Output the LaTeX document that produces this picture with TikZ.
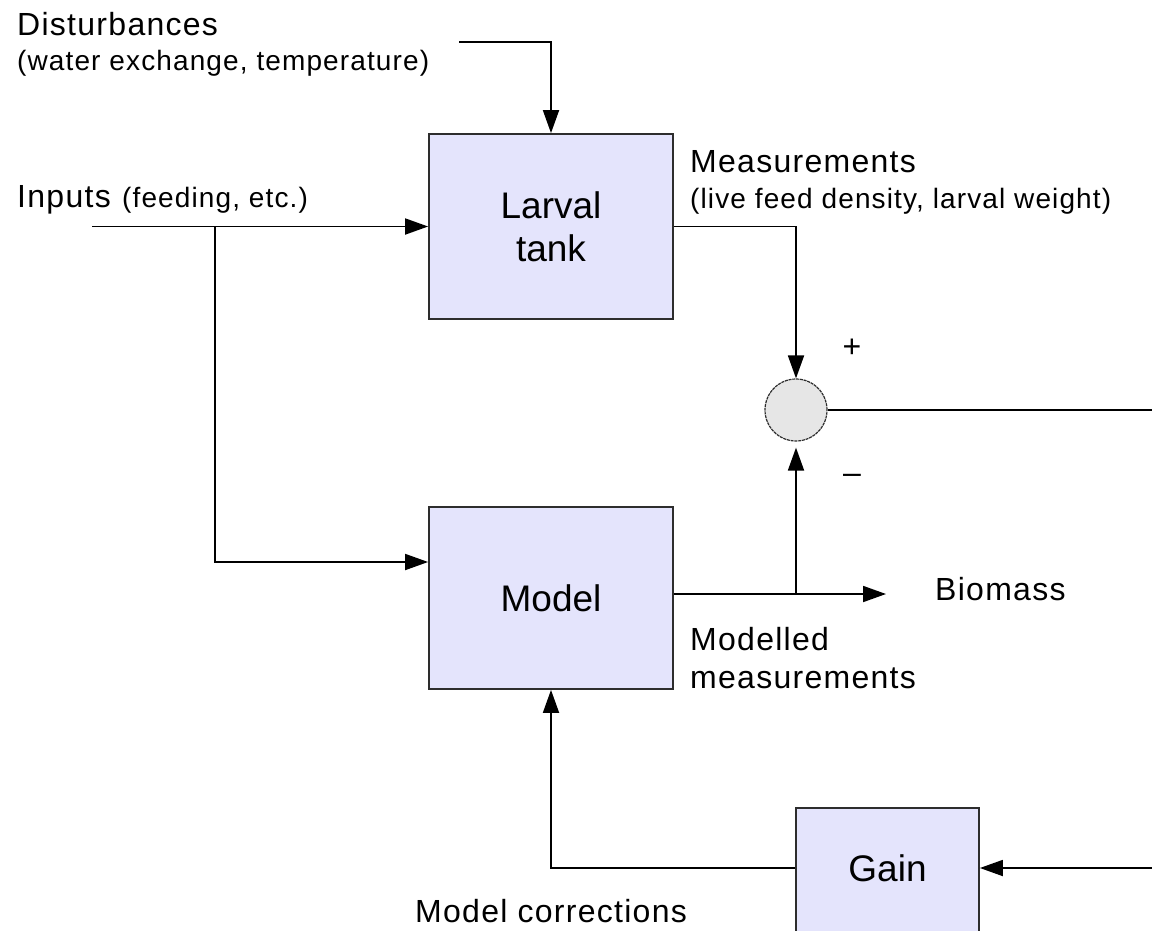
\documentclass[tikz,border=0pt]{standalone}
\usepackage{fontspec}
\setmainfont{Liberation Sans}
\newfontfamily\spacedsans[LetterSpace=4]{Liberation Sans}
\usetikzlibrary{arrows.meta,calc}
\definecolor{boxfill}{RGB}{228,228,252}
\definecolor{sumfill}{RGB}{230,230,230}
\definecolor{edge}{RGB}{45,45,45}
\begin{document}
\begin{tikzpicture}[x=1pt,y=-1pt,
  blk/.style={draw=edge,fill=boxfill,line width=1.8pt,rectangle,inner sep=0pt},
  big/.style={font=\fontsize{37}{43}\selectfont},
  mid/.style={font=\spacedsans\fontsize{32}{38}\selectfont},
  small/.style={font=\spacedsans\fontsize{28}{34}\selectfont},
  wire/.style={line width=1.8pt,draw=black},
  arr/.style={wire,-{Triangle[length=23pt,width=16pt]}},
  lbl/.style={anchor=base west,inner sep=0pt}]
\clip (0,0) rectangle (1152,930);

% blocks
\node[blk,minimum width=244pt,minimum height=185pt,align=center,big] (tank) at (551,226.5) {Larval\\tank};
\node[blk,minimum width=244pt,minimum height=182pt,big] (model) at (551,598) {Model};
\node[circle,draw=edge,fill=sumfill,line width=1.2pt,dash pattern=on 3pt off 0.8pt,minimum size=62pt,inner sep=0pt] (sum) at (796,410) {};
\node[blk,minimum width=183pt,minimum height=200pt,anchor=north] (gain) at (887.5,807) {};
\node[big,inner sep=0pt] (gaintext) at (887.5,868) {Gain};

% free ends and branch points
\coordinate (dist) at (459,42);
\coordinate (inp) at (92,226.5);
\coordinate (split) at (215,226.5);
\coordinate (modsplit) at (796,594);
\coordinate (bio) at (886,594);
\coordinate (errout) at (1152,410);
\coordinate (errin) at (1152,868);

% connectors
\draw[arr] (dist) -| (tank.north);
\draw[arr] (inp) -- (tank.west);
\draw[arr] (split) |- ([yshift=36pt]model.west);
\draw[arr] (tank.east) -| (sum.north);
\draw[wire] (sum.east) -- (errout);
\draw[arr] ([yshift=4pt]model.east) -- (bio);
\draw[arr,shorten >=6pt] (modsplit) -- (sum.south);
\draw[arr] (errin) -- (gain.east |- errin);
\draw[arr] (gain.west |- errin) -| (model.south);

% labels
\node[lbl,mid] (disttitle) at (17,35) {Disturbances};
\node[lbl,small] (distsub) at (17,70) {(water exchange, temperature)};
\node[lbl,mid] (inlabel) at (17,207) {Inputs};
\node[lbl,small] (inlabelsub) at (122,207) {(feeding, etc.)};
\node[lbl,mid] (meas) at (690,172) {Measurements};
\node[lbl,small] (meassub) at (690,208) {(live feed density, larval weight)};
\node[mid,inner sep=0pt] (plus) at (852,348) {+};
\node[mid,inner sep=0pt] (minus) at (852,479) {\textendash};
\node[lbl,mid] (biomass) at (935,600) {Biomass};
\node[lbl,mid] (modmeas) at (690,650) {Modelled};
\node[lbl,mid] (modmeas2) at (690,688) {measurements};
\node[lbl,mid] (corrlabel) at (415,922) {Model corrections};
\end{tikzpicture}
\end{document}
